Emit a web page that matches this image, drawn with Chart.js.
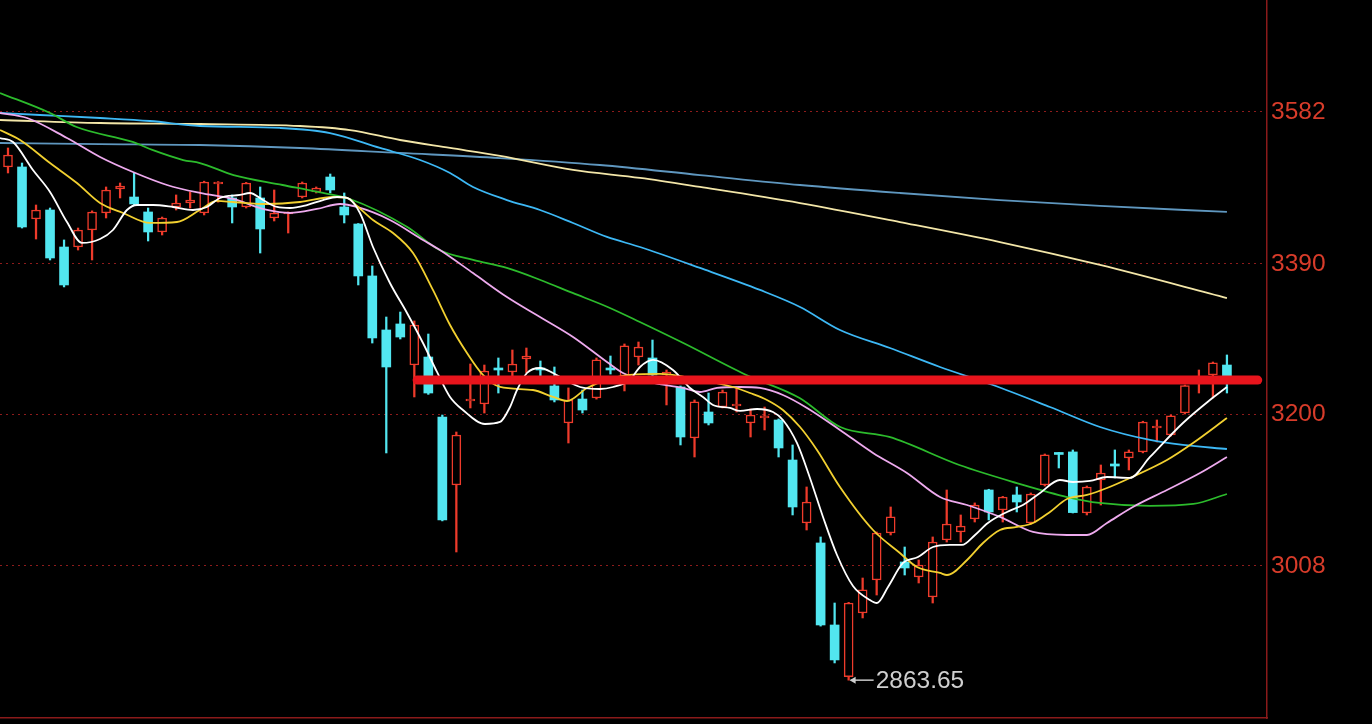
<!DOCTYPE html>
<html>
<head>
<meta charset="utf-8">
<script src="https://cdn.jsdelivr.net/npm/chart.js@4.4.1/dist/chart.umd.min.js"></script>
<style>
    html, body { margin: 0; padding: 0; background: #000; }
    #wrap { width: 1372px; height: 724px; position: relative; }
</style>
</head>
<body>
<div id="wrap"><canvas id="kline"></canvas></div>
<script>
// Daily candles, oldest first
const opens = [3512.5, 3512.5, 3446.7, 3458.1, 3411.3, 3411.3, 3432.8, 3454.3, 3484.7, 3474.5,
    3455.6, 3430.3, 3461.9, 3466.9, 3454.3, 3491.0, 3473.3, 3461.9, 3473.3, 3448.0,
    3453.0, 3474.5, 3480.9, 3499.8, 3461.9, 3440.4, 3374.7, 3306.4, 3314.0, 3262.1,
    3272.2, 3196.4, 3110.4, 3216.6, 3212.8, 3258.3, 3253.3, 3269.7, 3258.3, 3235.6,
    3188.8, 3219.1, 3220.4, 3258.3, 3248.2, 3272.2, 3271.0, 3249.5, 3234.3, 3169.8,
    3202.7, 3209.0, 3210.3, 3188.8, 3195.1, 3192.6, 3142.0, 3062.4, 3037.1, 2933.4,
    2868.0, 2948.6, 2990.3, 3049.7, 3013.1, 2994.1, 2968.8, 3040.9, 3051.0, 3067.4,
    3104.1, 3078.8, 3097.8, 3062.4, 3110.4, 3150.9, 3152.2, 3075.0, 3116.7, 3137.0,
    3144.6, 3152.2, 3182.5, 3173.6, 3201.4, 3239.4, 3249.5, 3262.1];
const highs = [3536.5, 3517.5, 3464.4, 3460.6, 3420.2, 3435.3, 3457.0, 3487.2, 3492.2, 3504.9,
    3460.6, 3449.2, 3477.1, 3480.9, 3494.5, 3494.0, 3477.1, 3493.0, 3487.2, 3483.4,
    3455.6, 3493.5, 3487.2, 3503.6, 3479.6, 3441.0, 3387.3, 3322.8, 3329.1, 3317.8,
    3301.3, 3198.9, 3177.4, 3263.4, 3262.1, 3271.0, 3281.1, 3283.6, 3267.2, 3259.6,
    3233.1, 3230.5, 3271.0, 3273.5, 3288.7, 3291.2, 3293.7, 3255.8, 3235.6, 3217.9,
    3226.7, 3230.5, 3233.1, 3206.5, 3209.0, 3193.9, 3161.0, 3107.9, 3044.7, 2961.2,
    2962.0, 2992.8, 3051.0, 3082.6, 3032.0, 3015.6, 3044.7, 3104.1, 3072.5, 3087.7,
    3105.0, 3096.0, 3107.9, 3100.3, 3149.6, 3151.5, 3154.7, 3109.1, 3135.7, 3154.7,
    3154.7, 3191.0, 3192.6, 3198.9, 3236.8, 3255.8, 3265.9, 3274.8];
const lows = [3504.9, 3435.3, 3421.4, 3394.9, 3360.8, 3407.5, 3394.9, 3448.0, 3473.3, 3464.4,
    3418.9, 3426.5, 3458.1, 3460.6, 3451.8, 3468.0, 3441.7, 3460.6, 3403.7, 3444.2,
    3429.0, 3473.3, 3479.6, 3479.6, 3441.7, 3363.3, 3289.9, 3150.9, 3295.0, 3221.7,
    3225.0, 3065.0, 3025.7, 3207.8, 3201.4, 3226.7, 3248.2, 3252.0, 3248.2, 3215.4,
    3163.5, 3201.4, 3219.0, 3250.7, 3229.3, 3262.1, 3248.5, 3211.6, 3161.0, 3145.8,
    3186.3, 3207.8, 3202.7, 3171.1, 3180.0, 3145.8, 3072.5, 3053.5, 2932.0, 2885.4,
    2863.65, 2942.3, 2971.3, 3047.2, 2996.6, 2986.5, 2961.2, 3038.3, 3038.3, 3063.6,
    3066.2, 3063.6, 3076.3, 3061.1, 3109.1, 3131.9, 3075.0, 3072.5, 3085.1, 3119.3,
    3129.4, 3151.0, 3164.8, 3172.3, 3200.2, 3226.7, 3220.4, 3226.7];
const closes = [3527.6, 3436.6, 3458.1, 3397.4, 3363.3, 3432.8, 3455.6, 3483.4, 3488.4, 3465.7,
    3430.3, 3448.0, 3466.9, 3470.7, 3493.5, 3493.5, 3461.9, 3492.2, 3434.1, 3454.3,
    3454.3, 3492.2, 3485.9, 3483.4, 3451.8, 3374.7, 3296.3, 3259.6, 3297.5, 3312.7,
    3226.7, 3066.2, 3173.6, 3219.1, 3254.5, 3255.8, 3263.4, 3273.5, 3255.8, 3217.9,
    3217.9, 3205.2, 3268.5, 3255.8, 3286.2, 3284.9, 3249.5, 3253.3, 3171.1, 3215.4,
    3188.8, 3228.0, 3212.8, 3198.9, 3197.7, 3157.2, 3082.6, 3088.9, 2933.4, 2889.2,
    2961.2, 2977.7, 3049.7, 3070.0, 3005.5, 3009.3, 3038.3, 3061.1, 3058.6, 3085.1,
    3076.3, 3095.2, 3088.9, 3099.0, 3148.4, 3149.0, 3075.5, 3107.9, 3125.6, 3134.4,
    3152.2, 3190.1, 3185.0, 3198.0, 3236.0, 3241.9, 3265.0, 3248.2];

// Moving averages as [day index, value]
const ma5 = [[-0.57, 3549.1], [0.36, 3544.1], [1.78, 3508.7], [3.0, 3480.9], [4.21, 3442.9], [5.28, 3416.4],
    [6.57, 3421.4], [7.49, 3432.8], [8.49, 3458.1], [9.21, 3464.4], [10.35, 3464.4], [11.78, 3461.9],
    [13.2, 3458.1], [14.2, 3461.9], [15.13, 3473.3], [16.56, 3477.1], [17.27, 3479.6], [18.2, 3470.7],
    [19.2, 3461.9], [20.13, 3460.6], [21.34, 3464.4], [22.48, 3470.7], [23.48, 3474.5], [24.2, 3473.3],
    [25.12, 3454.3], [26.05, 3411.3], [27.26, 3365.8], [28.48, 3327.9], [29.62, 3289.9], [30.62, 3253.3],
    [31.55, 3221.7], [32.47, 3205.2], [34.04, 3187.5], [35.12, 3190.1], [35.83, 3209.0], [36.33, 3230.5],
    [37.04, 3252.0], [37.97, 3258.3], [38.9, 3252.0], [39.9, 3241.9], [40.83, 3234.3], [42.25, 3231.8],
    [43.18, 3234.3], [44.39, 3243.2], [45.11, 3259.6], [46.04, 3268.5], [47.46, 3255.8], [48.68, 3233.1],
    [49.6, 3221.7], [50.32, 3211.6], [51.53, 3207.8], [52.25, 3204.0], [53.46, 3206.5], [54.6, 3202.7],
    [55.31, 3192.6], [56.31, 3163.5], [57.24, 3119.3], [58.17, 3070.0], [59.17, 3021.9], [60.31, 2982.7],
    [61.52, 2965.0], [62.02, 2961.2], [62.81, 2981.5], [63.88, 3011.8], [64.95, 3019.4], [66.02, 3032.0],
    [67.23, 3034.6], [68.09, 3034.6], [69.02, 3047.2], [69.94, 3062.4], [71.3, 3076.3], [72.44, 3085.1],
    [73.66, 3100.3], [75.08, 3116.7], [76.01, 3114.2], [77.22, 3115.5], [78.44, 3120.5], [80.08, 3119.3],
    [81.51, 3145.8], [83.86, 3188.8], [85.79, 3217.9], [87.0, 3234.3]];
const ma10 = [[-0.57, 3559.2], [0.86, 3546.6], [3.0, 3517.5], [4.92, 3492.2], [6.57, 3466.9], [8.21, 3454.3],
    [10.13, 3441.7], [12.06, 3442.9], [13.7, 3458.1], [14.92, 3469.5], [16.06, 3468.2], [18.49, 3465.7],
    [20.84, 3468.2], [23.2, 3474.5], [24.2, 3473.3], [24.91, 3463.2], [26.05, 3445.5], [27.48, 3429.0],
    [28.91, 3403.7], [30.33, 3357.0], [31.55, 3312.7], [32.76, 3277.3], [33.9, 3249.5], [35.12, 3234.3],
    [37.47, 3230.5], [38.9, 3221.7], [39.9, 3216.6], [41.33, 3233.1], [42.75, 3243.2], [44.39, 3249.5],
    [46.53, 3250.8], [49.39, 3243.2], [51.75, 3234.3], [52.96, 3226.7], [54.17, 3217.9], [55.31, 3205.2],
    [56.53, 3183.7], [57.74, 3154.7], [59.38, 3107.9], [61.74, 3053.5], [63.66, 3024.4], [64.88, 3006.7],
    [66.52, 2999.2], [67.02, 2996.6], [68.45, 3015.6], [69.59, 3037.1], [70.8, 3053.5], [72.01, 3057.3],
    [73.16, 3062.4], [74.37, 3076.3], [75.58, 3092.7], [77.01, 3097.8], [78.44, 3106.6], [80.08, 3119.3],
    [82.72, 3142.0], [84.58, 3163.5], [87.0, 3195.1]];
const ma20 = [[-0.57, 3580.7], [1.36, 3574.4], [4.21, 3549.1], [6.57, 3525.1], [8.92, 3506.1], [11.35, 3489.7],
    [13.7, 3479.6], [16.06, 3472.0], [18.49, 3458.1], [20.13, 3454.3], [22.05, 3459.4], [23.7, 3465.7],
    [24.91, 3461.9], [27.26, 3445.5], [29.62, 3420.2], [30.83, 3407.5], [33.19, 3378.4], [35.61, 3348.1],
    [37.97, 3322.8], [40.33, 3297.5], [42.75, 3265.9], [43.89, 3252.0], [45.82, 3240.6], [48.18, 3233.1],
    [49.39, 3228.0], [50.6, 3233.1], [52.25, 3234.3], [53.67, 3233.1], [55.31, 3224.2], [57.03, 3207.8],
    [59.38, 3180.0], [61.74, 3150.9], [64.16, 3125.6], [66.52, 3095.2], [68.45, 3085.1], [70.8, 3070.0],
    [73.16, 3051.0], [75.58, 3047.2], [77.01, 3047.2], [78.44, 3062.4], [80.29, 3082.6], [82.72, 3104.1],
    [85.08, 3125.6], [87.0, 3145.8]];
const ma30 = [[-0.57, 3606.0], [3.0, 3580.7], [4.9, 3563.0], [8.9, 3544.1], [10.3, 3534.0], [12.5, 3521.3],
    [13.7, 3517.5], [16.1, 3502.3], [19.6, 3489.7], [22.1, 3480.9], [24.4, 3472.0], [28.5, 3436.6],
    [30.8, 3407.5], [33.2, 3394.9], [35.6, 3384.8], [38.0, 3369.6], [40.3, 3353.2], [42.8, 3335.5],
    [45.1, 3316.5], [48.2, 3289.9], [52.7, 3249.5], [56.5, 3220.4], [59.4, 3183.7], [62.9, 3171.1],
    [67.9, 3135.7], [72.0, 3112.9], [75.6, 3095.2], [77.9, 3087.7], [81.5, 3083.9], [84.6, 3086.4],
    [87.0, 3099.0]];
const ma60 = [[-0.57, 3580.7], [2.28, 3578.2], [6.57, 3574.4], [10.13, 3570.6], [13.7, 3564.3], [19.41, 3561.8],
    [22.98, 3555.4], [26.55, 3536.5], [29.41, 3521.3], [31.55, 3504.9], [33.19, 3487.2], [35.61, 3470.7],
    [37.97, 3458.1], [40.33, 3441.7], [42.75, 3424.0], [45.11, 3411.3], [49.39, 3384.8], [53.67, 3357.0],
    [56.53, 3335.5], [59.38, 3306.4], [62.95, 3283.6], [66.52, 3259.6], [70.3, 3236.8], [74.37, 3209.0],
    [77.94, 3183.7], [81.51, 3167.3], [83.86, 3161.0], [87.0, 3155.9]];
const ma120 = [[-0.57, 3571.9], [6.57, 3568.1], [13.7, 3566.8], [20.84, 3564.3], [24.41, 3559.2], [27.98, 3546.6],
    [31.55, 3536.5], [35.12, 3526.4], [40.33, 3508.7], [45.11, 3498.6], [49.39, 3487.2], [56.53, 3466.9],
    [63.66, 3442.9], [70.8, 3417.6], [77.94, 3388.6], [87.0, 3346.8]];
const ma250 = [[-0.57, 3542.8], [6.57, 3541.5], [13.7, 3540.3], [20.84, 3536.5], [27.98, 3530.2], [35.12, 3523.8],
    [42.25, 3515.0], [49.39, 3502.3], [56.53, 3489.7], [63.66, 3479.6], [70.8, 3470.7], [77.94, 3463.2],
    [87.0, 3455.6]];

const yTicks = [3008, 3200, 3390, 3582];
const supportLevel = 3243;
const supportSpan = [29.2, 89.2];
const lowIndex = 60;
const lowLabel = '2863.65';

const UP = '#ee3b2b';
const DOWN = '#52e6f0';

function isUp(i) {
    return closes[i] >= opens[i];
}

function pairs(list) {
    return list.map(p => ({ x: p[0], y: p[1] }));
}

function maLine(label, list, color, order) {
    return {
        type: 'line',
        label: label,
        data: pairs(list),
        borderColor: color,
        borderWidth: 1.8,
        pointRadius: 0,
        cubicInterpolationMode: 'monotone',
        fill: false,
        order: order
    };
}

// Low price marker: arrow + value next to the lowest candle
const lowMarker = {
    id: 'lowMarker',
    afterDatasetsDraw(chart) {
        const ctx = chart.ctx;
        const x = chart.scales.x.getPixelForValue(lowIndex);
        const y = chart.scales.y.getPixelForValue(lows[lowIndex]);
        ctx.save();
        ctx.strokeStyle = '#c8c8c8';
        ctx.fillStyle = '#cfcfcf';
        ctx.lineWidth = 1.5;
        ctx.beginPath();
        ctx.moveTo(x + 2, y);
        ctx.lineTo(x + 25, y);
        ctx.stroke();
        ctx.beginPath();
        ctx.moveTo(x + 1, y);
        ctx.lineTo(x + 7, y - 3.5);
        ctx.lineTo(x + 7, y + 3.5);
        ctx.closePath();
        ctx.fill();
        ctx.font = '24.5px "Liberation Sans", Arial, sans-serif';
        ctx.textBaseline = 'middle';
        ctx.fillText(lowLabel, x + 27, y + 1);
        ctx.restore();
    }
};

const idx = opens.map((_, i) => i);

new Chart(document.getElementById('kline'), {
    type: 'bar',
    data: {
        datasets: [
            {
                type: 'line',
                label: 'support',
                data: [{ x: supportSpan[0], y: supportLevel }, { x: supportSpan[1], y: supportLevel }],
                borderColor: '#e8141c',
                borderWidth: 9,
                borderCapStyle: 'round',
                pointRadius: 0,
                order: 0
            },
            maLine('MA5', ma5, '#ffffff', 1),
            maLine('MA10', ma10, '#f2d030', 2),
            maLine('MA20', ma20, '#eeaaee', 3),
            maLine('MA30', ma30, '#2cbb2c', 4),
            maLine('MA60', ma60, '#3db8f5', 5),
            maLine('MA120', ma120, '#f3e6a8', 6),
            maLine('MA250', ma250, '#5f97bf', 7),
            {
                label: 'body',
                data: idx.map(i => ({ x: i, y: [opens[i], closes[i]] })),
                backgroundColor: idx.map(i => isUp(i) ? '#000000' : DOWN),
                borderColor: idx.map(i => isUp(i) ? UP : DOWN),
                borderWidth: idx.map(i => isUp(i) ? 1.5 : 0),
                borderSkipped: false,
                barThickness: 9,
                minBarLength: 2,
                grouped: false,
                order: 8
            },
            {
                label: 'wick',
                data: idx.map(i => ({ x: i, y: [lows[i], highs[i]] })),
                backgroundColor: idx.map(i => isUp(i) ? UP : DOWN),
                borderWidth: 0,
                barThickness: 1.6,
                grouped: false,
                order: 9
            }
        ]
    },
    options: {
        responsive: true,
        maintainAspectRatio: false,
        animation: false,
        layout: { padding: 0 },
        plugins: {
            legend: { display: false },
            tooltip: { enabled: false }
        },
        scales: {
            x: {
                type: 'linear',
                offset: false,
                min: -0.571,
                max: 89.86,
                grid: { display: false, drawTicks: false },
                ticks: { display: false },
                border: { display: true, color: '#8a1a1a', width: 1.5 },
                afterFit(scale) {
                    scale.height = 6;
                    scale.paddingLeft = 0;
                    scale.paddingRight = 0;
                }
            },
            y: {
                position: 'right',
                min: 2815.8,
                max: 3723.6,
                afterBuildTicks(scale) {
                    scale.ticks = yTicks.map(v => ({ value: v }));
                },
                afterFit(scale) {
                    scale.width = 105;
                    scale.paddingTop = 0;
                    scale.paddingBottom = 0;
                },
                grid: {
                    color: 'rgba(150, 28, 28, 0.95)',
                    lineWidth: 1,
                    drawTicks: false
                },
                border: { display: true, color: '#8a1a1a', width: 1.5, dash: [2, 4] },
                ticks: {
                    color: '#d83c2a',
                    padding: 4,
                    font: { family: '"Liberation Sans", Arial, sans-serif', size: 24.5 },
                    callback: v => String(v)
                }
            }
        }
    },
    plugins: [lowMarker]
});
</script>
</body>
</html>
